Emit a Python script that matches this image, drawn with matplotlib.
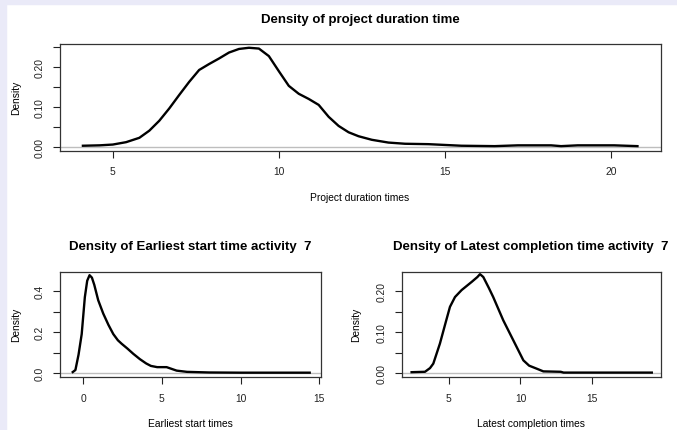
import matplotlib
matplotlib.use("Agg")
import matplotlib.pyplot as plt
from matplotlib.patches import Rectangle

plt.rcParams['font.family'] = ['Liberation Sans', 'DejaVu Sans']

# ---- data ----
proj_x = [4.1, 4.6, 5.0, 5.4, 5.8, 6.1, 6.4, 6.7, 7.0, 7.3, 7.6, 7.9, 8.2, 8.5, 8.8,
          9.1, 9.4, 9.7, 10.0, 10.3, 10.6, 10.9, 11.2, 11.5, 11.8, 12.1, 12.4, 12.8,
          13.3, 13.8, 14.5, 15.0, 15.5, 16.5, 17.2, 18.2, 18.5, 19.0, 20.1, 20.8]
proj_y = [0.002, 0.003, 0.005, 0.011, 0.022, 0.040, 0.065, 0.096, 0.130, 0.163, 0.193,
          0.208, 0.222, 0.237, 0.246, 0.249, 0.247, 0.228, 0.190, 0.153, 0.133, 0.120,
          0.105, 0.075, 0.052, 0.036, 0.026, 0.017, 0.010, 0.007, 0.006, 0.004, 0.002,
          0.001, 0.003, 0.003, 0.001, 0.003, 0.003, 0.001]

est_x = [-0.67, -0.5, -0.3, -0.1, 0.1, 0.25, 0.4, 0.55, 0.7, 0.95, 1.27, 1.6, 1.91, 2.2,
         2.44, 2.8, 3.18, 3.6, 4.0, 4.3, 4.7, 5.3, 5.6, 5.94, 6.6, 8.0, 10.0, 12.0, 14.4]
est_y = [0.005, 0.015, 0.090, 0.190, 0.370, 0.450, 0.477, 0.465, 0.430, 0.355, 0.290,
         0.235, 0.190, 0.160, 0.143, 0.120, 0.094, 0.068, 0.047, 0.035, 0.029, 0.029,
         0.021, 0.012, 0.006, 0.003, 0.002, 0.002, 0.002]

lct_x = [2.42, 3.35, 3.7, 3.93, 4.39, 4.8, 5.09, 5.44, 5.9, 6.6, 7.0, 7.18, 7.41, 7.8,
         8.1, 8.8, 9.5, 10.2, 10.6, 11.13, 11.59, 12.8, 13.0, 19.14]
lct_y = [0.002, 0.003, 0.012, 0.023, 0.072, 0.125, 0.162, 0.186, 0.203, 0.223, 0.235,
         0.242, 0.235, 0.208, 0.186, 0.129, 0.080, 0.031, 0.018, 0.0106, 0.004, 0.003,
         0.001, 0.001]

titles = ["Density of project duration time",
          "Density of Earliest start time activity  7",
          "Density of Latest completion time activity  7"]
xlabels = ["Project duration times", "Earliest start times", "Latest completion times"]

proj_xticks = [5, 10, 15, 20]
proj_yticks = [0.00, 0.05, 0.10, 0.15, 0.20, 0.25]
proj_ylabels = ["0.00", "", "0.10", "", "0.20", ""]
est_xticks = [0, 5, 10, 15]
est_yticks = [0.0, 0.1, 0.2, 0.3, 0.4]
est_ylabels = ["0.0", "", "0.2", "", "0.4"]
lct_xticks = [5, 10, 15]
lct_yticks = [0.00, 0.05, 0.10, 0.15, 0.20]
lct_ylabels = ["0.00", "", "0.10", "", "0.20"]

W, H = 677, 431
fig = plt.figure(figsize=(W / 100, H / 100), dpi=100)

# lavender frame strips
fig.patches.append(Rectangle((0, 1 - 5 / H), 1, 5 / H, transform=fig.transFigure,
                             color='#EAEAF8', zorder=-10))
fig.patches.append(Rectangle((0, 0), 6 / W, 1, transform=fig.transFigure,
                             color='#EAEAF8', zorder=-10))

def px_axes(l, t, r, b):
    return fig.add_axes([l / W, 1 - b / H, (r - l) / W, (b - t) / H])

ax1 = px_axes(60, 45, 660.7, 151.7)
ax2 = px_axes(60, 272.7, 320.7, 378.3)
ax3 = px_axes(401.7, 272.7, 660.7, 378.3)

def style(ax, x, y, xlim, ylim, xt, yt, ylab):
    ax.axhline(0, color='#BEBEBE', lw=1, zorder=1)
    ax.plot(x, y, color='black', lw=1.7, zorder=2, solid_joinstyle='round')
    ax.set_xlim(*xlim)
    ax.set_ylim(*ylim)
    ax.set_xticks(xt)
    ax.set_xticklabels([str(v) for v in xt])
    ax.set_yticks(yt)
    ax.set_yticklabels(ylab, rotation=90, va='center')
    ax.tick_params(direction='out', length=5, width=0.8, labelsize=7.4, colors='#222222')
    ax.tick_params(axis='x', pad=6)
    ax.tick_params(axis='y', pad=6)
    for s in ax.spines.values():
        s.set_color('#333333')
        s.set_linewidth(0.9)

style(ax1, proj_x, proj_y, (3.41, 21.5), (-0.0105, 0.2585), proj_xticks, proj_yticks, proj_ylabels)
style(ax2, est_x, est_y, (-1.48, 15.1), (-0.0205, 0.494), est_xticks, est_yticks, est_ylabels)
style(ax3, lct_x, lct_y, (1.73, 19.76), (-0.0105, 0.248), lct_xticks, lct_yticks, lct_ylabels)

def ftext(x, y, s, **kw):
    fig.text(x / W, 1 - y / H, s, ha='center', va='center', **kw)

ftext(360, 20, titles[0], fontsize=9.5, fontweight='bold')
ftext(190, 247, titles[1], fontsize=9.5, fontweight='bold')
ftext(531, 247, titles[2], fontsize=9.5, fontweight='bold')
ftext(360, 198, xlabels[0], fontsize=7.4)
ftext(190, 424, xlabels[1], fontsize=7.4)
ftext(531, 424, xlabels[2], fontsize=7.4)
ftext(16, 98, "Density", fontsize=7.4, rotation=90)
ftext(16, 325, "Density", fontsize=7.4, rotation=90)
ftext(356, 325, "Density", fontsize=7.4, rotation=90)

fig.savefig("out.png", dpi=100)
